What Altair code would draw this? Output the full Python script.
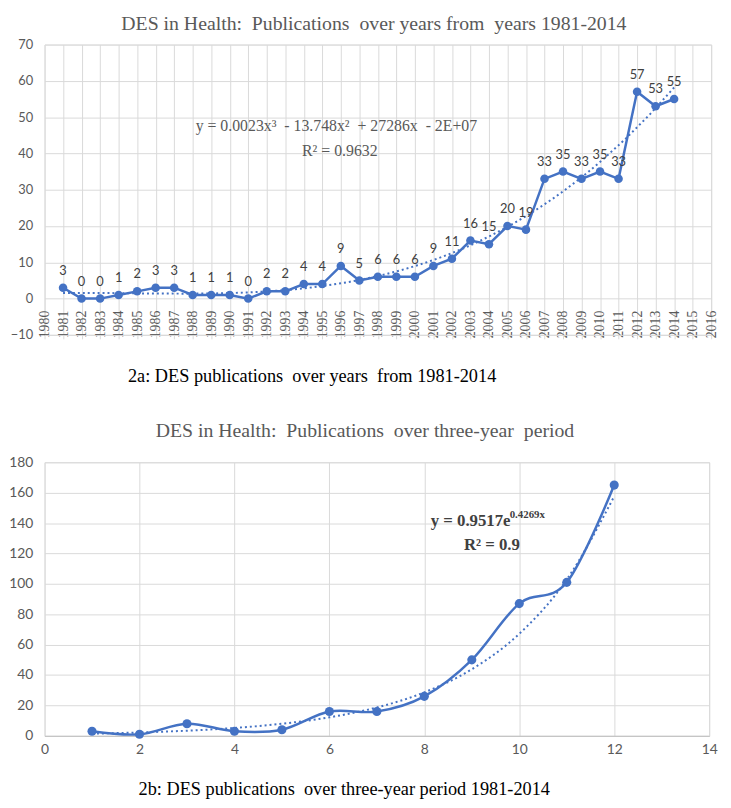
import altair as alt
import pandas as pd

# ---------------- data ----------------
years = list(range(1981, 2015))
pubs = [3, 0, 0, 1, 2, 3, 3, 1, 1, 1,
        0, 2, 2, 4, 4, 9, 5, 6, 6, 6,
        9, 11, 16, 15, 20, 19, 33, 35, 33, 35,
        33, 57, 53, 55]
periods = list(range(1, 13))
period_pubs = [3, 1, 8, 3, 4, 16, 16, 26, 50, 87, 101, 165]

year_ticks = list(range(1980, 2017))
y1_ticks = list(range(-10, 71, 10))
x2_ticks = list(range(0, 15, 2))
y2_ticks = list(range(0, 181, 20))

NB = "\u00a0"
title1 = f"DES in Health:{NB} Publications{NB} over years from{NB} years 1981-2014"
caption1 = f"2a: DES publications{NB} over years{NB} from 1981-2014"
eq1 = f"y = 0.0023x³{NB} - 13.748x²{NB} + 27286x{NB} - 2E+07"
r2_1 = "R² = 0.9632"

title2 = f"DES in Health:{NB} Publications{NB} over three-year{NB} period"
caption2 = f"2b: DES publications{NB} over three-year period 1981-2014"
eq2_main = "y = 0.9517e"
eq2_sup = "0.4269x"
r2_2 = "R² = 0.9"

# ---------------- styles ----------------
BLUE = "#4472C4"
GRID = "#D9D9D9"
LABEL = "#595959"
SERIF = "Liberation Serif"
SANS = "Lato"

df1 = pd.DataFrame({"year": years, "pubs": pubs})
df2 = pd.DataFrame({"period": periods, "pubs": period_pubs})

# ---------------- chart 2a ----------------
x1 = alt.X(
    "year:Q",
    scale=alt.Scale(domain=[1980, 2016], nice=False, zero=False),
    axis=alt.Axis(
        values=year_ticks, format="d", labelAngle=270,
        labelFont=SERIF, labelFontSize=14, labelColor=LABEL,
        labelPadding=-29, labelOverlap=False, labelFlush=False,
        tickSize=4, tickColor=GRID, domainColor=GRID, gridColor=GRID,
        title=caption1, titleFont=SERIF, titleFontSize=18.5,
        titleFontWeight="normal", titleColor="black",
        titleX=84, titleY=41, titleAlign="left", titleBaseline="middle",
        titleAnchor="start",
    ),
)
y1 = alt.Y(
    "pubs:Q",
    scale=alt.Scale(domain=[-10, 70], nice=False, zero=False),
    axis=alt.Axis(
        values=y1_ticks, labelFont=SANS, labelFontSize=13, labelColor=LABEL,
        labelPadding=12, ticks=False, domain=False, gridColor=GRID, title=None,
        labelOverlap=False,
    ),
)

base1 = alt.Chart(df1)
line1 = base1.mark_line(color=BLUE, strokeWidth=2.5).encode(x=x1, y=y1)
pts1 = base1.mark_circle(color=BLUE, size=75, opacity=1).encode(x=x1, y=y1)
trend1 = (
    base1.transform_regression("year", "pubs", method="poly", order=3)
    .mark_line(color=BLUE, strokeWidth=2, strokeDash=[2, 3])
    .encode(x=x1, y=y1)
)
lab1 = base1.mark_text(dy=-17, font=SANS, fontSize=13, color="#404040").encode(
    x=x1, y=y1, text="pubs:Q"
)
eqt1 = alt.Chart(pd.DataFrame({"t": [eq1]})).mark_text(
    align="left", baseline="middle", font=SERIF, fontSize=16, color=LABEL
).encode(x=alt.value(153), y=alt.value(83), text="t:N")
r2t1 = alt.Chart(pd.DataFrame({"t": [r2_1]})).mark_text(
    align="center", baseline="middle", font=SERIF, fontSize=16, color=LABEL
).encode(x=alt.value(299), y=alt.value(108), text="t:N")

chart1 = alt.layer(line1, trend1, pts1, lab1, eqt1, r2t1).properties(
    width=675, height=294,
    title=alt.TitleParams(
        title1, font=SERIF, fontSize=20, fontWeight="normal", color=LABEL,
        offset=5, anchor="middle", dx=-4,
    ),
)

# ---------------- chart 2b ----------------
y2_axis = alt.Axis(
    values=y2_ticks, labelFont=SANS, labelFontSize=14, labelColor=LABEL,
    labelPadding=12, ticks=False, domain=False, gridColor=GRID, title=None,
    labelOverlap=False,
)
y2_scale = alt.Scale(domain=[0, 180], nice=False)

x2 = alt.X(
    "period:Q",
    scale=alt.Scale(domain=[0, 14], nice=False, zero=False),
    axis=alt.Axis(
        values=x2_ticks, labelFont=SANS, labelFontSize=14, labelColor=LABEL,
        labelPadding=7, ticks=False, domainColor="#BFBFBF", gridColor=GRID,
        labelFlush=False, labelOverlap=False,
        title=caption2, titleFont=SERIF, titleFontSize=18.5,
        titleFontWeight="normal", titleColor="black",
        titleX=303, titleY=53, titleAlign="center", titleBaseline="middle",
    ),
)
y2 = alt.Y("pubs:Q", scale=y2_scale, axis=y2_axis)

base2 = alt.Chart(df2)
line2 = base2.mark_line(color=BLUE, strokeWidth=2.5, interpolate="cardinal").encode(x=x2, y=y2)
pts2 = base2.mark_circle(color=BLUE, size=85, opacity=1).encode(x=x2, y=y2)
trend2 = (
    base2.transform_calculate(ly="log(datum.pubs)")
    .transform_joinaggregate(mx="mean(period)", mly="mean(ly)")
    .transform_calculate(
        sxy="(datum.period - datum.mx) * (datum.ly - datum.mly)",
        sxx="(datum.period - datum.mx) * (datum.period - datum.mx)",
    )
    .transform_joinaggregate(Sxy="sum(sxy)", Sxx="sum(sxx)")
    .transform_calculate(b="datum.Sxy / datum.Sxx")
    .transform_calculate(trend="exp(datum.mly + datum.b * (datum.period - datum.mx))")
    .mark_line(color=BLUE, strokeWidth=2, strokeDash=[2, 3], interpolate="monotone")
    .encode(x=x2, y=alt.Y("trend:Q", scale=y2_scale, axis=y2_axis))
)
eqt2 = alt.Chart(pd.DataFrame({"t": [eq2_main]})).mark_text(
    align="left", baseline="middle", font=SERIF, fontSize=17, fontWeight="bold", color="#404040"
).encode(x=alt.value(391), y=alt.value(60), text="t:N")
eqs2 = alt.Chart(pd.DataFrame({"t": [eq2_sup]})).mark_text(
    align="left", baseline="middle", font=SERIF, fontSize=11, fontWeight="bold", color="#404040"
).encode(x=alt.value(471), y=alt.value(53), text="t:N")
r2t2 = alt.Chart(pd.DataFrame({"t": [r2_2]})).mark_text(
    align="center", baseline="middle", font=SERIF, fontSize=17, fontWeight="bold", color="#404040"
).encode(x=alt.value(453), y=alt.value(84), text="t:N")

chart2 = alt.layer(line2, trend2, pts2, eqt2, eqs2, r2t2).properties(
    width=673, height=277,
    title=alt.TitleParams(
        title2, font=SERIF, fontSize=20, fontWeight="normal", color=LABEL,
        offset=15, anchor="middle", dx=-12,
    ),
)

chart = (
    alt.vconcat(chart1, chart2, spacing=35)
    .properties(padding={"left": 0, "top": 0, "right": 4, "bottom": 0})
    .configure_view(stroke=None)
    .configure(background="white")
)

chart.save("out.html", embed_options={"renderer": "svg", "actions": False})
